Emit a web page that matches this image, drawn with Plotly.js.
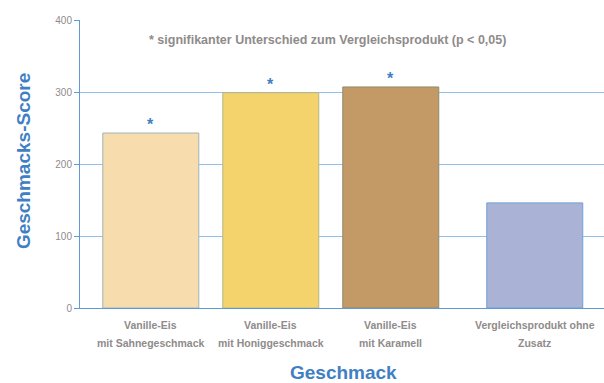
<!DOCTYPE html>
<html>
<head>
<meta charset="utf-8">
<script src="https://cdn.plot.ly/plotly-3.0.1.min.js"></script>
<style>html,body{margin:0;padding:0;background:#fff;}#chart{width:604px;height:383px;}</style>
</head>
<body>
<div id="chart"></div>
<script>
// Data
const categories = ["A", "B", "C", "D"];
const labelLine1 = ["Vanille-Eis", "Vanille-Eis", "Vanille-Eis", "Vergleichsprodukt ohne"];
const labelLine2 = ["mit Sahnegeschmack", "mit Honiggeschmack", "mit Karamell", "Zusatz"];
const scores = [243, 299, 307, 146];
const significant = ["*", "*", "*", ""];
const yTickVals = [0, 100, 200, 300, 400];
const yTickText = ["0", "100", "200", "300", "400"];
const noteText = "* signifikanter Unterschied zum Vergleichsprodukt (p < 0,05)";
const xTitle = "Geschmack";
const yTitle = "Geschmacks-Score";

// Styles
const barColors = ["#f7dcae", "#f4d36c", "#c39a66", "#aab3d5"];
const barLines = ["#9fb4b8", "#b7b48a", "#8e8a70", "#6f9fd6"];
const barOffsets = [-0.4, -0.4, -0.4, -0.2];
const labelShift = [0, 0, 0, 24];
const blue = "#3f80c4";
const gray = "#8f8b8b";
const font = "Liberation Sans, Arial, sans-serif";

const annotations = [];
categories.forEach((c, i) => {
  annotations.push({x: c, xref: "x", y: -0.059, yref: "paper", xshift: labelShift[i],
    text: "<b>" + labelLine1[i] + "</b>", showarrow: false, yanchor: "middle",
    font: {family: font, size: 10.5, color: gray}});
  annotations.push({x: c, xref: "x", y: -0.1215, yref: "paper", xshift: labelShift[i],
    text: "<b>" + labelLine2[i] + "</b>", showarrow: false, yanchor: "middle",
    font: {family: font, size: 10.5, color: gray}});
  if (significant[i]) {
    annotations.push({x: c, xref: "x", y: scores[i], yref: "y", yanchor: "bottom",
      xshift: labelShift[i], yshift: -2,
      text: "<b>" + significant[i] + "</b>", showarrow: false,
      font: {family: font, size: 16, color: blue}});
  }
});
annotations.push({x: 0.473, xref: "paper", y: 0.9306, yref: "paper", text: "<b>" + noteText + "</b>",
  showarrow: false, xanchor: "center", yanchor: "middle",
  font: {family: font, size: 12.5, color: gray}});
annotations.push({x: 0.502, xref: "paper", y: -0.225, yref: "paper", text: "<b>" + xTitle + "</b>",
  showarrow: false, xanchor: "center", yanchor: "middle",
  font: {family: font, size: 19, color: blue}});
annotations.push({x: -0.1088, xref: "paper", y: 0.51, yref: "paper", text: "<b>" + yTitle + "</b>",
  showarrow: false, textangle: -90, xanchor: "center", yanchor: "middle",
  font: {family: font, size: 19, color: blue}});

const trace = {
  type: "bar",
  x: categories,
  y: scores,
  width: 0.8,
  offset: barOffsets,
  marker: {color: barColors, line: {color: barLines, width: 1}},
  hoverinfo: "none"
};

const layout = {
  width: 604, height: 383,
  margin: {l: 80, r: 0, t: 20, b: 75},
  paper_bgcolor: "#ffffff", plot_bgcolor: "#ffffff",
  showlegend: false,
  font: {family: font},
  xaxis: {
    type: "category", categoryarray: categories, range: [-0.59, 3.777],
    showticklabels: false, ticks: "", showgrid: false, zeroline: false,
    showline: true, linecolor: "#5d9ad6", linewidth: 1
  },
  yaxis: {
    range: [0, 400], tickvals: yTickVals, ticktext: yTickText,
    ticks: "outside", ticklen: 5, tickcolor: "#5d9ad6",
    showline: true, linecolor: "#5d9ad6", linewidth: 1,
    showgrid: true, gridcolor: "#94bfe8", gridwidth: 1, zeroline: false,
    tickfont: {family: font, size: 10, color: gray}
  },
  annotations: annotations
};

Plotly.newPlot("chart", [trace], layout, {staticPlot: true, displayModeBar: false});
</script>
</body>
</html>
